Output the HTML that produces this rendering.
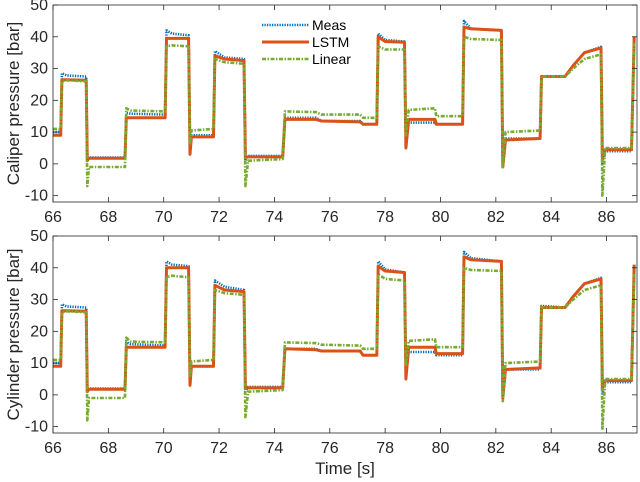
<!DOCTYPE html>
<html><head><meta charset="utf-8"><style>
body{margin:0;background:#fff}
svg{display:block;font-family:"Liberation Sans",sans-serif}
</style></head><body>
<svg id="chart" width="640" height="482" viewBox="0 0 640 482" xmlns="http://www.w3.org/2000/svg"></svg>
<script>
const times=[66.0,66.28,66.32,66.5,67.2,67.24,67.3,68.6,68.65,68.8,70.05,70.1,70.3,70.9,70.95,71.0,71.8,71.85,72.2,72.9,72.95,73.05,74.3,74.38,75.5,75.7,77.1,77.2,77.7,77.75,78.0,78.7,78.75,78.85,79.8,79.85,80.8,80.85,81.1,82.2,82.25,82.35,83.6,83.65,84.5,84.8,85.2,85.8,85.85,85.95,86.9,87.0];
const caliperMeas=[10,10,28.5,27.8,27.5,1,2,2,16,15.8,15.5,42,41,40.5,4,9,9,35.5,33.5,33,1,2.5,2.5,14.5,14.5,13.5,13.5,12.5,12.5,41,39,38.5,7,13,13,12.5,12.5,45,42.5,42,-1,8,8,27.5,27.5,31,35,36.8,0,4,4,40];
const caliperLSTM=[9,9,26.5,26.5,26.3,1,1.8,1.8,14.5,14.5,14.5,39.5,39.5,39.5,3,8.5,8.5,34,33,32.5,2,2.2,2.2,14,14,13.5,13.2,12.5,12.5,40,38.5,38.3,5,14,14,12.5,12.5,43,42.5,42,-1,7.5,8,27.5,27.5,31,35,36.5,2,4.5,4.5,40];
const caliperLinear=[11,11,26,26.3,26,-7,-1,-1,17.5,16.8,16.5,37,37.3,37,6,10.5,11,33,32,31.5,-7,1,1.5,16.5,16.3,15.5,15.5,14.5,14.5,37,36,36,9,17,17.5,15,15,40,39.3,39,-1,10,10.5,27.5,27.5,30,33,34.5,-10,5,5,38];
const cylMeas=[10,10,28.5,27.8,27.5,1,2,2,16.5,16,15.5,42,41,40.5,4,9,9,36,34,33,1,2.5,2.5,14.5,14.5,13.8,13.8,12.5,12.5,42,39.5,38.5,7,13.5,13.5,12.5,12.5,45,43,42,-1,8,8,28,27.5,31,35,36.8,0,4,4,41];
const cylLSTM=[9,9,26.5,26.5,26.3,1,1.8,1.8,15,15,15,40,40,40,3,9,9,34.5,33,32.5,2,2.2,2.2,14.5,14.2,13.8,13.8,12.5,12.5,40.5,39,38.5,5,15,15,13,13,43.5,42.5,42,-1,8,8.5,27.5,27.5,31,35,36.5,2,4.5,4.5,41];
const cylLinear=[11,11,26,26.3,26,-8,-1,-1,18,16.8,16.5,37,37.5,37,6,10.5,11,33,32,31.5,-7,1,1.5,16.5,16.3,15.8,15.5,14.5,14.5,38,36.5,36,9,17,17.5,15,15,40,39.3,39,-2,10,10.5,27.5,27.5,30,33,34.5,-11,5,5,38];
const xTicks=[66,68,70,72,74,76,78,80,82,84,86];
const yTicks=[-10,0,10,20,30,40,50];
const legendLabels=["Meas","LSTM","Linear"];

const NS="http://www.w3.org/2000/svg";
const svg=document.getElementById('chart');
function mk(tag,attrs,parent){const e=document.createElementNS(NS,tag);for(const k in attrs)e.setAttribute(k,attrs[k]);(parent||svg).appendChild(e);return e;}
const X0=53,X1=637,XMIN=66,XMAX=87.1;
function sx(t){return X0+(t-XMIN)/(XMAX-XMIN)*(X1-X0);}
const styles=[{c:"#0072BD",w:2.6,d:"1.3 1.2"},{c:"#D95319",w:3,d:""},{c:"#77AC30",w:2.6,d:"4 1.5 1.5 1.5"}];
function panel(top,bot,series,ylabel,name,showLegend){
  const YMIN=-12,YMAX=50;
  const sy=v=>bot-(v-YMIN)/(YMAX-YMIN)*(bot-top);
  const g=mk('g',{});
  
  
  const clipId=name+'-clip';
  const cp=mk('clipPath',{id:clipId},g);mk('rect',{x:X0,y:top,width:X1-X0,height:bot-top},cp);
  const lines=mk('g',{'clip-path':'url(#'+clipId+')'},g);
  series.forEach((vals,i)=>{
    const p=mk('polyline',{points:times.map((t,j)=>sx(t).toFixed(1)+','+sy(vals[j]).toFixed(1)).join(' '),fill:'none',stroke:styles[i].c,'stroke-width':styles[i].w,'stroke-dasharray':styles[i].d,'stroke-linejoin':'round'},lines);
    
    
  });
  const box=mk('rect',{x:X0,y:top,width:X1-X0,height:bot-top,fill:'none',stroke:'#262626','stroke-width':0.8},g);
  
  
  xTicks.forEach(t=>{
    mk('line',{x1:sx(t),x2:sx(t),y1:bot,y2:bot-5,stroke:'#262626','stroke-width':0.8},g);
    mk('line',{x1:sx(t),x2:sx(t),y1:top,y2:top+5,stroke:'#262626','stroke-width':0.8},g);
    const tx=mk('text',{x:sx(t),y:bot+20,'text-anchor':'middle','font-size':16,fill:'#262626'},g);tx.textContent=t;
    
    
  });
  yTicks.forEach(v=>{
    mk('line',{x1:X0,x2:X0+5,y1:sy(v),y2:sy(v),stroke:'#262626','stroke-width':0.8},g);
    mk('line',{x1:X1,x2:X1-5,y1:sy(v),y2:sy(v),stroke:'#262626','stroke-width':0.8},g);
    const tx=mk('text',{x:X0-5,y:sy(v)+5,'text-anchor':'end','font-size':16,fill:'#262626'},g);tx.textContent=v;
    
    
  });
  const yl=mk('text',{x:0,y:0,transform:'translate(19,'+((top+bot)/2)+') rotate(-90)','text-anchor':'middle','font-size':17,fill:'#262626'},g);
  yl.textContent=ylabel;
  
  
  if(showLegend){
    legendLabels.forEach((lab,i)=>{
      const y=25+i*17;
      const le=mk('g',{},g);
      
      
      mk('line',{x1:262,x2:309,y1:y,y2:y,stroke:styles[i].c,'stroke-width':styles[i].w,'stroke-dasharray':styles[i].d},le);
      const tx=mk('text',{x:312,y:y+5,'font-size':14,fill:'#000'},le);tx.textContent=lab;
    });
  }
}
panel(5,202,[caliperMeas,caliperLSTM,caliperLinear],'Caliper pressure [bar]','caliper-panel',true);
panel(236,433,[cylMeas,cylLSTM,cylLinear],'Cylinder pressure [bar]','cylinder-panel',false);
const xt=mk('text',{x:345,y:474,'text-anchor':'middle','font-size':17,fill:'#262626'});
xt.textContent='Time [s]';


</script>
</body></html>
